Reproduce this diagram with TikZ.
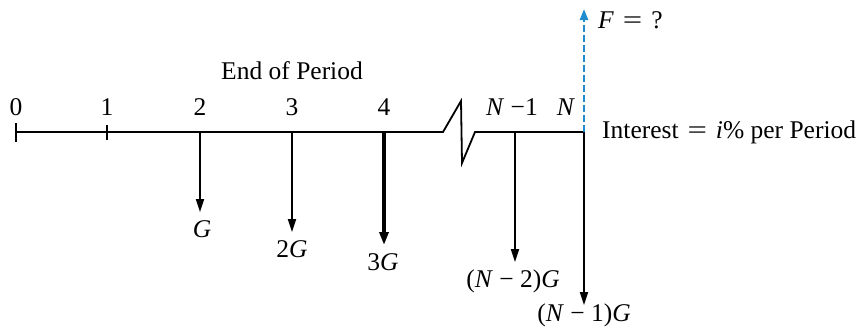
\documentclass[tikz,border=0pt]{standalone}
\usepackage{fontspec}
\usepackage{graphicx}
\setmainfont{Liberation Serif}
\usetikzlibrary{arrows.meta}
\definecolor{fblue}{RGB}{30,140,205}
\newcommand{\eqsp}{\hspace{0.35em}\scalebox{1.35}[1]{=}\hspace{0.35em}}
\begin{document}
\begin{tikzpicture}[x=1pt,y=-1pt,
  every node/.style={font=\fontsize{25.5}{30}\selectfont, inner sep=0pt},
  axis/.style={line width=1.8pt},
  cash/.style={line width=1.8pt, -{Triangle[length=13pt,width=8pt]}},
  cashbold/.style={line width=3.2pt, -{Triangle[length=13pt,width=9pt]}},
  future/.style={line width=2.4pt, fblue, dash pattern=on 7pt off 3pt, -{Triangle[length=11pt,width=8pt]}},
  lbl/.style={anchor=base}]
\useasboundingbox (0,0) rectangle (858,335);
% axis points
\coordinate (t0) at (16,132);
\coordinate (t1) at (107,132);
\coordinate (t2) at (200,132);
\coordinate (t3) at (292,132);
\coordinate (t4) at (384,132);
\coordinate (b1) at (443,132);
\coordinate (b2) at (461,101);
\coordinate (b3) at (462,163);
\coordinate (b4) at (475,132);
\coordinate (tn1) at (515,132);
\coordinate (tn) at (584,132);
% axis
\draw[axis, line join=miter] (t0) -- (b1) -- (b2) -- (b3) -- (b4) -- (tn);
\draw[line width=1.2pt] (16,123) -- (16,142);
\draw[line width=1.2pt] (107,125) -- (107,140);
% period labels
\node[lbl] (l0) at (16,115) {0};
\node[lbl] (l1) at (107,115) {1};
\node[lbl] (l2) at (200,115) {2};
\node[lbl] (l3) at (292,115) {3};
\node[lbl] (l4) at (384,115) {4};
\node[lbl] (ln1) at (512,115) {\textit{N} −1};
\node[lbl] (ln) at (566,115) {\textit{N}};
\node[lbl] (eop) at (292,79) {End of Period};
\node[anchor=base west] (int) at (602,138) {Interest\eqsp\textit{i}\% per Period};
% arrow ends
\coordinate (e2) at (200,212);
\coordinate (e3) at (292,232);
\coordinate (e4) at (384,245);
\coordinate (en1) at (515,262);
\coordinate (en) at (584,305);
\coordinate (ef) at (584,9);
\draw[cash] (t2) -- (e2);
\draw[cash] (t3) -- (e3);
\draw[cashbold] (t4) -- (e4);
\draw[cash] (tn1) -- (en1);
\draw[cash] (tn) -- (en);
\draw[future] (tn) -- (ef);
% amounts
\node[lbl] (g1) at (202,237) {\textit{G}};
\node[lbl] (g2) at (292,257) {2\textit{G}};
\node[lbl] (g3) at (383,270) {3\textit{G}};
\node[lbl] (gn2) at (513,287) {(\textit{N}\hspace{0.25em}−\hspace{0.25em}2)\textit{G}};
\node[lbl] (gn1) at (584,321) {(\textit{N}\hspace{0.25em}−\hspace{0.25em}1)\textit{G}};
\node[anchor=base west] (f) at (598,28) {\textit{F}\eqsp?};
\end{tikzpicture}
\end{document}
